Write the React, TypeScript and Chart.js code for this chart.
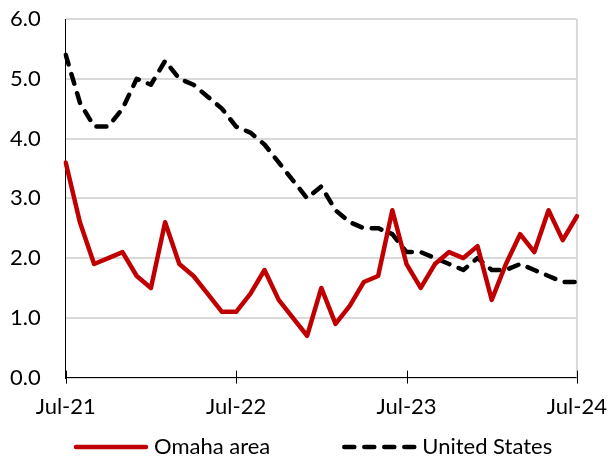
import React, { useEffect, useRef } from 'react';
import { Chart, registerables } from 'chart.js';

Chart.register(...registerables);

const months = [
  'Jul-21', 'Aug-21', 'Sep-21', 'Oct-21', 'Nov-21', 'Dec-21',
  'Jan-22', 'Feb-22', 'Mar-22', 'Apr-22', 'May-22', 'Jun-22',
  'Jul-22', 'Aug-22', 'Sep-22', 'Oct-22', 'Nov-22', 'Dec-22',
  'Jan-23', 'Feb-23', 'Mar-23', 'Apr-23', 'May-23', 'Jun-23',
  'Jul-23', 'Aug-23', 'Sep-23', 'Oct-23', 'Nov-23', 'Dec-23',
  'Jan-24', 'Feb-24', 'Mar-24', 'Apr-24', 'May-24', 'Jun-24',
  'Jul-24',
];

const tickLabels = ['Jul-21', 'Jul-22', 'Jul-23', 'Jul-24'];

const omaha = [
  3.6, 2.6, 1.9, 2.0, 2.1, 1.7, 1.5, 2.6, 1.9, 1.7, 1.4, 1.1,
  1.1, 1.4, 1.8, 1.3, 1.0, 0.7, 1.5, 0.9, 1.2, 1.6, 1.7, 2.8,
  1.9, 1.5, 1.9, 2.1, 2.0, 2.2, 1.3, 1.9, 2.4, 2.1, 2.8, 2.3,
  2.7,
];

const unitedStates = [
  5.4, 4.6, 4.2, 4.2, 4.5, 5.0, 4.9, 5.3, 5.0, 4.9, 4.7, 4.5,
  4.2, 4.1, 3.9, 3.6, 3.3, 3.0, 3.2, 2.8, 2.6, 2.5, 2.5, 2.4,
  2.1, 2.1, 2.0, 1.9, 1.8, 2.0, 1.8, 1.8, 1.9, 1.8, 1.7, 1.6,
  1.6,
];

const FONT_FAMILY = 'Lato, "Liberation Sans", sans-serif';
const FONT = { family: FONT_FAMILY, size: 22 };

const LEGEND = { startX: 74, centerY: 447, sampleWidth: 74, textGap: 6, itemGap: 72 };

const framePlugin = {
  id: 'framePlugin',
  beforeDatasetsDraw(chart: any) {
    const { ctx, chartArea } = chart;
    ctx.save();
    ctx.strokeStyle = '#d9d9d9';
    ctx.lineWidth = 2;
    ctx.beginPath();
    ctx.moveTo(chartArea.right, chartArea.top);
    ctx.lineTo(chartArea.right, chartArea.bottom);
    ctx.stroke();
    ctx.restore();
  },
  afterDraw(chart: any) {
    const { ctx, chartArea } = chart;
    const xScale = chart.scales.x;
    ctx.save();
    // x-axis tick marks crossing the axis line
    ctx.strokeStyle = '#000';
    ctx.lineWidth = 1;
    months.forEach((m, i) => {
      if (tickLabels.includes(m)) {
        const x = Math.round(xScale.getPixelForValue(i)) + 0.5;
        ctx.beginPath();
        ctx.moveTo(x, chartArea.bottom - 7);
        ctx.lineTo(x, chartArea.bottom + 6);
        ctx.stroke();
      }
    });
    // legend
    ctx.font = `${FONT.size}px ${FONT_FAMILY}`;
    ctx.textBaseline = 'middle';
    ctx.textAlign = 'left';
    let x = LEGEND.startX;
    chart.data.datasets.forEach((ds: any) => {
      ctx.strokeStyle = ds.borderColor;
      ctx.lineWidth = ds.borderWidth;
      ctx.lineCap = 'round';
      ctx.setLineDash(ds.borderDash || []);
      ctx.beginPath();
      ctx.moveTo(x + 2, LEGEND.centerY);
      ctx.lineTo(x + LEGEND.sampleWidth - 2, LEGEND.centerY);
      ctx.stroke();
      ctx.setLineDash([]);
      ctx.fillStyle = '#000';
      const tx = x + LEGEND.sampleWidth + LEGEND.textGap;
      ctx.fillText(ds.label, tx, LEGEND.centerY);
      x = tx + ctx.measureText(ds.label).width + LEGEND.itemGap;
    });
    ctx.restore();
  },
};

export default function App() {
  const ref = useRef<HTMLCanvasElement>(null);
  useEffect(() => {
    document.body.style.margin = '0';
    const chart = new Chart(ref.current as HTMLCanvasElement, {
      type: 'line',
      data: {
        labels: months,
        datasets: [
          {
            label: 'Omaha area',
            data: omaha,
            borderColor: '#C00000',
            backgroundColor: '#C00000',
            borderWidth: 4.5,
            pointRadius: 0,
            borderJoinStyle: 'round',
            borderCapStyle: 'round',
          },
          {
            label: 'United States',
            data: unitedStates,
            borderColor: '#000000',
            backgroundColor: '#000000',
            borderWidth: 4.5,
            borderDash: [10, 10],
            borderCapStyle: 'round',
            borderJoinStyle: 'round',
            pointRadius: 0,
          },
        ],
      },
      options: {
        responsive: false,
        animation: false,
        layout: { padding: { top: 19, left: 8, right: 0, bottom: 34 } },
        scales: {
          x: {
            grid: { display: true, drawOnChartArea: false, color: 'rgba(0,0,0,0)', tickColor: 'rgba(0,0,0,0)', tickLength: 13 },
            border: { color: '#000', width: 1 },
            ticks: {
              autoSkip: false,
              maxRotation: 0,
              color: '#000',
              font: FONT,
              padding: 3,
              callback: (_v: any, i: number) => (tickLabels.includes(months[i]) ? months[i] : ''),
            },
          },
          y: {
            min: 0,
            max: 6,
            ticks: {
              stepSize: 1,
              color: '#000',
              font: FONT,
              padding: 2,
              callback: (v: any) => Number(v).toFixed(1),
            },
            grid: { color: '#d9d9d9', lineWidth: 2, drawTicks: true, tickLength: 23, tickColor: 'rgba(0,0,0,0)' },
            border: { color: '#000', width: 1 },
          },
        },
        plugins: {
          legend: { display: false },
          tooltip: { enabled: false },
        },
      },
      plugins: [framePlugin],
    });
    return () => chart.destroy();
  }, []);
  return (
    <div style={{ width: 610, height: 457 }}>
      <canvas ref={ref} width={610} height={457} style={{ display: 'block' }} />
    </div>
  );
}
